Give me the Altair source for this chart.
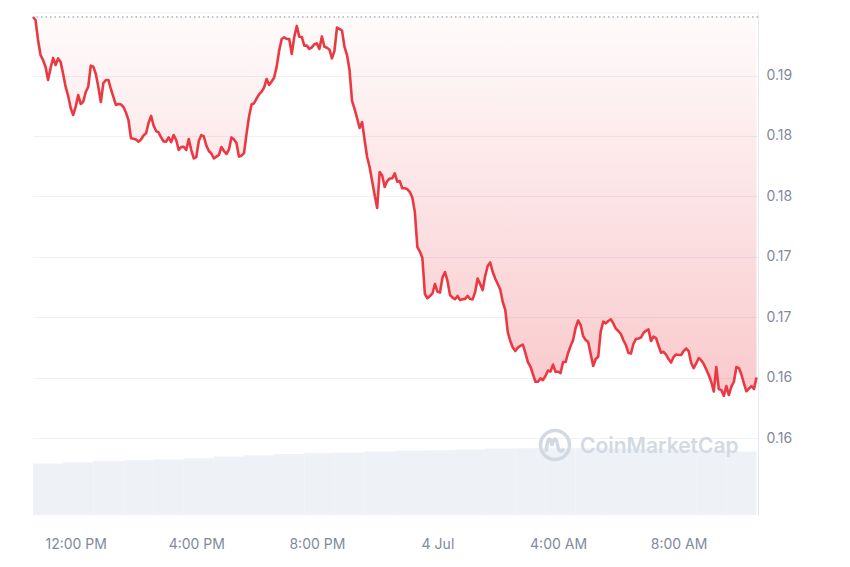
import altair as alt
import pandas as pd

START = "2024-07-03 10:35"
OPEN_PRICE = 0.19485

# price every 5 minutes (USD)
prices = [
    0.19485, 0.19460, 0.19295, 0.19170, 0.19129, 0.19071, 0.18964, 0.19063, 0.19146, 0.19088,
    0.19142, 0.19113, 0.19013, 0.18906, 0.18831, 0.18732, 0.18674, 0.18743, 0.18839, 0.18765,
    0.18784, 0.18864, 0.18908, 0.19082, 0.19074, 0.19013, 0.18908, 0.18781, 0.18936, 0.18964,
    0.18964, 0.18889, 0.18823, 0.18757, 0.18765, 0.18761, 0.18740, 0.18694, 0.18632, 0.18481,
    0.18477, 0.18471, 0.18453, 0.18471, 0.18504, 0.18522, 0.18608, 0.18666, 0.18587, 0.18541,
    0.18529, 0.18488, 0.18454, 0.18453, 0.18488, 0.18450, 0.18508, 0.18467, 0.18384, 0.18409,
    0.18411, 0.18384, 0.18475, 0.18384, 0.18314, 0.18326, 0.18459, 0.18508, 0.18496, 0.18421,
    0.18376, 0.18355, 0.18314, 0.18329, 0.18343, 0.18409, 0.18376, 0.18351, 0.18388, 0.18488,
    0.18471, 0.18442, 0.18329, 0.18337, 0.18359, 0.18517, 0.18661, 0.18761, 0.18771, 0.18810,
    0.18844, 0.18867, 0.18901, 0.18972, 0.18922, 0.18951, 0.18984, 0.19074, 0.19208, 0.19303,
    0.19317, 0.19303, 0.19303, 0.19179, 0.19320, 0.19411, 0.19322, 0.19320, 0.19248, 0.19248,
    0.19220, 0.19233, 0.19259, 0.19266, 0.19220, 0.19324, 0.19239, 0.19230, 0.19216, 0.19143,
    0.19204, 0.19397, 0.19386, 0.19373, 0.19237, 0.19170, 0.19046, 0.18790, 0.18724, 0.18649,
    0.18566, 0.18616, 0.18467, 0.18326, 0.18243, 0.18127, 0.18012, 0.17904, 0.18202, 0.18173,
    0.18078, 0.18127, 0.18148, 0.18150, 0.18190, 0.18122, 0.18127, 0.18067, 0.18067, 0.18060,
    0.18036, 0.17991, 0.17871, 0.17581, 0.17544, 0.17490, 0.17192, 0.17157, 0.17176, 0.17196,
    0.17275, 0.17210, 0.17204, 0.17329, 0.17374, 0.17300, 0.17184, 0.17162, 0.17149, 0.17176,
    0.17142, 0.17148, 0.17152, 0.17176, 0.17151, 0.17148, 0.17209, 0.17320, 0.17275, 0.17225,
    0.17341, 0.17424, 0.17453, 0.17374, 0.17320, 0.17275, 0.17229, 0.17126, 0.17060, 0.16877,
    0.16803, 0.16749, 0.16720, 0.16749, 0.16762, 0.16774, 0.16704, 0.16629, 0.16592, 0.16530,
    0.16466, 0.16466, 0.16493, 0.16480, 0.16513, 0.16559, 0.16550, 0.16608, 0.16549, 0.16549,
    0.16538, 0.16629, 0.16629, 0.16704, 0.16762, 0.16811, 0.16911, 0.16973, 0.16935, 0.16844,
    0.16811, 0.16795, 0.16695, 0.16596, 0.16654, 0.16673, 0.16882, 0.16963, 0.16949, 0.16969,
    0.16983, 0.16949, 0.16906, 0.16886, 0.16861, 0.16811, 0.16770, 0.16704, 0.16699, 0.16778,
    0.16820, 0.16824, 0.16832, 0.16869, 0.16888, 0.16900, 0.16803, 0.16840, 0.16828, 0.16766,
    0.16706, 0.16714, 0.16691, 0.16654, 0.16625, 0.16671, 0.16691, 0.16687, 0.16687, 0.16720,
    0.16741, 0.16720, 0.16621, 0.16579, 0.16617, 0.16662, 0.16644, 0.16613, 0.16567, 0.16522,
    0.16464, 0.16385, 0.16588, 0.16406, 0.16397, 0.16349, 0.16430, 0.16356, 0.16426, 0.16466,
    0.16588, 0.16579, 0.16526, 0.16452, 0.16387, 0.16409, 0.16430, 0.16406, 0.16501,
]

# hourly volume (millions, arbitrary units)
volumes = [4.10, 4.20, 4.30, 4.36, 4.42, 4.52, 4.66, 4.76, 4.86, 4.94, 4.98, 5.06,
           5.12, 5.16, 5.22, 5.30, 5.32, 5.32, 5.32, 5.30, 5.26, 5.22, 5.16, 5.05]

y_ticks = [0.16, 0.165, 0.17, 0.175, 0.18, 0.185, 0.19]
y_domain = [0.15363, 0.19518]

FMT = "%Y-%m-%dT%H:%M:%SZ"
times = pd.date_range(START, periods=len(prices), freq="5min")
df = pd.DataFrame({"t": times.strftime(FMT), "price": prices, "open": OPEN_PRICE})
vt = pd.date_range(START, periods=len(volumes), freq="h")
vdf = pd.DataFrame({"t": vt.strftime(FMT),
                    "t2": (vt + pd.Timedelta(hours=1)).strftime(FMT),
                    "vol": volumes})
odf = pd.DataFrame({"open": [OPEN_PRICE]})
one = pd.DataFrame({"a": [0]})

x_vals = ([alt.DateTime(year=2024, month=7, date=3, hours=h, utc=True) for h in (12, 16, 20)]
          + [alt.DateTime(year=2024, month=7, date=4, hours=h, utc=True) for h in (0, 4, 8)])

x_enc = alt.X(
    "t:T",
    scale=alt.Scale(type="utc", domain=[
        alt.DateTime(year=2024, month=7, date=3, hours=10, minutes=35, utc=True),
        alt.DateTime(year=2024, month=7, date=4, hours=10, minutes=38, utc=True)]),
    axis=alt.Axis(values=x_vals, title=None, grid=False, domain=False, ticks=False,
                  labelPadding=22, labelOverlap=False, labelFlush=False,
                  labelExpr="utchours(datum.value) == 0 ? utcFormat(datum.value, '%-d %b') : utcFormat(datum.value, '%-I:%M %p')"),
)

y_axis = alt.Axis(orient="right", values=y_ticks, title=None, ticks=False, labelPadding=8,
                  grid=True, gridColor="#eff2f5", gridWidth=1,
                  domain=True, domainColor="#e6e9ee", domainWidth=1,
                  labelExpr="format(floor(datum.value*100 + 0.0001)/100, '.2f')")
y_scale = alt.Scale(domain=y_domain, zero=False, nice=False)

vol = alt.Chart(vdf).mark_rect(color="#eef1f5").encode(
    x=x_enc, x2="t2:T",
    y=alt.Y("vol:Q", scale=alt.Scale(domain=[0, 40]), axis=None),
    y2=alt.datum(0),
)

grad = alt.Gradient(
    gradient="linear",
    stops=[alt.GradientStop(color="rgba(234,57,67,0.02)", offset=0),
           alt.GradientStop(color="rgba(234,57,67,0.27)", offset=1)],
    x1=1, x2=1, y1=0, y2=1,
)

area = alt.Chart(df).mark_area(color=grad).encode(
    x=x_enc,
    y=alt.Y("price:Q", scale=y_scale, axis=y_axis),
    y2="open",
)
open_rule = alt.Chart(odf).mark_rule(color="#a9b2c2", strokeDash=[1.5, 3], strokeWidth=1.5).encode(
    y=alt.Y("open:Q", scale=y_scale, axis=y_axis),
)
line = alt.Chart(df).mark_line(color="#ea3943", strokeWidth=2.6, strokeJoin="round").encode(
    x=x_enc,
    y=alt.Y("price:Q", scale=y_scale, axis=y_axis),
)
inner = alt.layer(area, open_rule, line)

top_rule = alt.Chart(one).mark_rule(color="#eceff3", strokeWidth=1).encode(
    y=alt.value(0), x=alt.value(0), x2=alt.value(725))

logo_ring = alt.Chart(one).mark_point(shape="circle", filled=False, size=841, strokeWidth=3.5,
                                      color="#d3d9e3", opacity=1).encode(
    x=alt.value(522), y=alt.value(432))
logo_m = alt.Chart(one).mark_point(
    shape="M -0.6 0.45 L -0.55 0.1 C -0.45 -0.55 -0.3 -0.55 -0.2 0.05 C -0.1 -0.55 0.1 -0.55 0.18 0.05 C 0.25 0.5 0.45 0.5 0.6 0.25",
    filled=False, size=900, strokeWidth=3.5, color="#d3d9e3", opacity=1).encode(
    x=alt.value(522), y=alt.value(432))
wm = alt.Chart(one).mark_text(text="CoinMarketCap", font="Inter", fontSize=21, fontWeight=600,
                              color="#d3d9e3", align="left", baseline="middle").encode(
    x=alt.value(547), y=alt.value(434))

chart = (
    alt.layer(vol, inner, top_rule, logo_ring, logo_m, wm)
    .resolve_scale(y="independent")
    .properties(width=725, height=502, background="white",
                autosize=alt.AutoSizeParams(type="none"),
                padding={"left": 25, "top": 5, "right": 70, "bottom": 45})
    .configure_view(stroke=None)
    .configure_axis(labelFont="Inter", labelFontSize=14, labelColor="#808a9d")
)

chart.save("out.html", embed_options={"renderer": "svg", "actions": False})
